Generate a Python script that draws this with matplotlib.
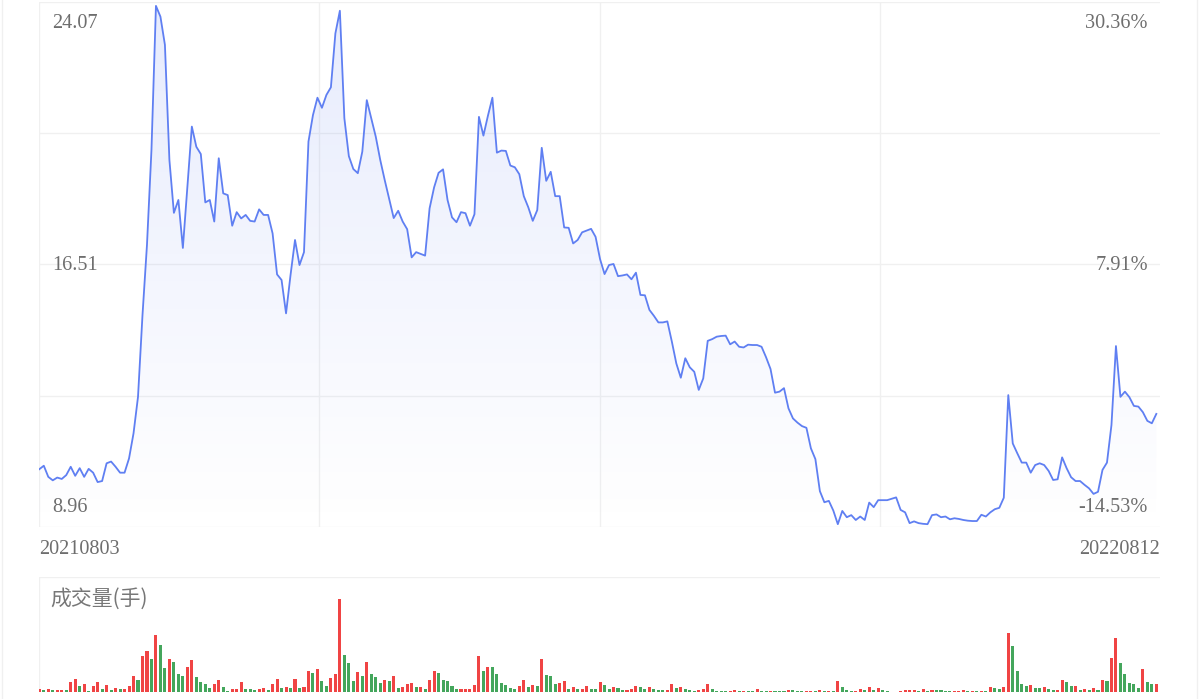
import numpy as np
import matplotlib
matplotlib.use("Agg")
import matplotlib.pyplot as plt
from matplotlib.colors import LinearSegmentedColormap
from matplotlib.lines import Line2D

# closing price, 20210803 .. 20220812
price = [
    10.63, 10.73, 10.41, 10.31, 10.39, 10.35, 10.46, 10.70, 10.44, 10.66,
    10.41, 10.64, 10.53, 10.26, 10.29, 10.80, 10.85, 10.70, 10.53, 10.53,
    10.94, 11.66, 12.71, 15.06, 17.08, 19.81, 23.95, 23.64, 22.83, 19.52,
    18.00, 18.37, 16.99, 18.74, 20.48, 19.90, 19.69, 18.30, 18.37, 17.75,
    19.57, 18.56, 18.51, 17.63, 18.02, 17.84, 17.94, 17.77, 17.75, 18.10,
    17.94, 17.94, 17.41, 16.23, 16.07, 15.11, 16.21, 17.22, 16.50, 16.87,
    20.05, 20.81, 21.31, 21.02, 21.39, 21.61, 23.16, 23.81, 20.72, 19.63,
    19.26, 19.14, 19.76, 21.24, 20.72, 20.19, 19.52, 18.94, 18.40, 17.85,
    18.06, 17.75, 17.53, 16.72, 16.87, 16.82, 16.77, 18.13, 18.73, 19.15,
    19.25, 18.37, 17.87, 17.73, 18.02, 17.99, 17.63, 17.96, 20.76, 20.22,
    20.79, 21.31, 19.73, 19.79, 19.78, 19.36, 19.31, 19.11, 18.48, 18.16,
    17.77, 18.08, 19.87, 18.92, 19.18, 18.48, 18.48, 17.58, 17.57, 17.12,
    17.22, 17.44, 17.49, 17.54, 17.31, 16.67, 16.24, 16.50, 16.53, 16.18,
    16.20, 16.23, 16.09, 16.28, 15.64, 15.63, 15.21, 15.04, 14.85, 14.85,
    14.88, 14.30, 13.67, 13.26, 13.82, 13.56, 13.43, 12.91, 13.24, 14.32,
    14.37, 14.44, 14.46, 14.47, 14.22, 14.30, 14.15, 14.13, 14.21, 14.20,
    14.20, 14.15, 13.85, 13.51, 12.83, 12.86, 12.96, 12.38, 12.09, 11.97,
    11.87, 11.82, 11.23, 10.92, 10.00, 9.68, 9.72, 9.44, 9.05, 9.43,
    9.25, 9.31, 9.17, 9.27, 9.17, 9.67, 9.54, 9.74, 9.74, 9.74,
    9.78, 9.82, 9.46, 9.39, 9.08, 9.13, 9.08, 9.06, 9.05, 9.31,
    9.33, 9.25, 9.27, 9.19, 9.22, 9.20, 9.17, 9.15, 9.14, 9.14,
    9.32, 9.27, 9.39, 9.48, 9.52, 9.81, 12.76, 11.37, 11.09, 10.82,
    10.82, 10.53, 10.75, 10.80, 10.75, 10.58, 10.32, 10.34, 10.97, 10.66,
    10.40, 10.29, 10.29, 10.18, 10.08, 9.92, 9.98, 10.61, 10.82, 11.90,
    14.17, 12.71, 12.86, 12.70, 12.45, 12.43, 12.27, 12.02, 11.95, 12.22,
]

# volume (thousand lots, approx.)
volume = [
    10, 7, 10, 5, 5, 6, 5, 31, 40, 17,
    25, 2, 17, 29, 10, 20, 7, 13, 9, 9,
    17, 48, 37, 107, 123, 99, 171, 141, 71, 99,
    91, 53, 47, 75, 96, 46, 31, 24, 13, 23,
    37, 15, 4, 8, 10, 29, 9, 8, 6, 10,
    13, 7, 25, 40, 12, 16, 11, 40, 11, 15,
    64, 56, 69, 33, 17, 42, 53, 281, 111, 86,
    32, 60, 49, 91, 54, 45, 28, 35, 32, 47,
    12, 14, 25, 28, 16, 16, 8, 36, 64, 56,
    35, 32, 18, 8, 9, 10, 10, 22, 108, 63,
    74, 74, 53, 27, 21, 11, 10, 18, 36, 15,
    22, 18, 100, 52, 49, 24, 27, 34, 10, 15,
    8, 9, 19, 9, 8, 31, 22, 8, 14, 12,
    5, 6, 9, 18, 14, 8, 16, 10, 6, 5,
    6, 23, 11, 15, 10, 7, 3, 7, 10, 25,
    9, 2, 2, 2, 3, 5, 2, 3, 2, 2,
    10, 2, 2, 4, 2, 3, 2, 7, 5, 2,
    2, 4, 4, 3, 5, 4, 4, 3, 34, 14,
    6, 3, 4, 9, 6, 14, 7, 13, 7, 2,
    1, 1, 3, 5, 6, 6, 3, 8, 3, 7,
    6, 5, 3, 2, 3, 3, 6, 4, 4, 3,
    3, 2, 15, 13, 8, 16, 178, 137, 62, 23,
    17, 22, 13, 13, 14, 9, 5, 5, 35, 29,
    17, 17, 6, 8, 6, 11, 5, 36, 34, 103,
    161, 86, 55, 26, 23, 13, 68, 29, 23, 25,
]

# 1 = up day (red), 0 = down day (green)
up = [
    1, 0, 1, 0, 1, 1, 0, 1, 1, 0,
    1, 0, 1, 1, 0, 1, 0, 1, 0, 1,
    1, 1, 0, 1, 1, 0, 1, 0, 0, 1,
    0, 0, 0, 1, 1, 0, 0, 0, 0, 1,
    1, 0, 0, 1, 1, 1, 0, 0, 0, 1,
    1, 0, 1, 1, 0, 1, 0, 1, 0, 1,
    1, 0, 1, 0, 0, 1, 1, 1, 0, 0,
    0, 1, 0, 1, 0, 0, 0, 1, 0, 1,
    0, 1, 1, 1, 0, 1, 0, 1, 1, 0,
    0, 0, 0, 0, 1, 1, 1, 1, 1, 0,
    1, 0, 0, 0, 0, 0, 0, 1, 1, 0,
    1, 0, 1, 0, 0, 0, 1, 1, 0, 1,
    0, 1, 1, 0, 0, 1, 0, 0, 1, 0,
    0, 1, 1, 1, 0, 0, 1, 0, 0, 0,
    1, 1, 0, 1, 0, 0, 0, 1, 1, 1,
    0, 0, 0, 0, 1, 1, 0, 1, 0, 0,
    1, 0, 0, 1, 0, 0, 0, 1, 0, 0,
    0, 1, 1, 0, 1, 0, 1, 0, 1, 0,
    0, 0, 1, 1, 0, 1, 0, 1, 0, 0,
    0, 0, 1, 1, 1, 1, 0, 1, 0, 1,
    0, 0, 0, 0, 1, 1, 1, 0, 1, 0,
    1, 0, 1, 0, 0, 1, 1, 0, 0, 0,
    0, 1, 0, 0, 1, 0, 0, 1, 1, 0,
    0, 1, 0, 1, 0, 1, 0, 1, 0, 1,
    1, 0, 0, 0, 0, 0, 1, 0, 0, 1,
]

y_labels = ["24.07", "16.51", "8.96"]
pct_labels = ["30.36%", "7.91%", "-14.53%"]
start_date, end_date = "20210803", "20220812"

ymin, ymax = 8.96, 24.07
line_col = "#5f7ff2"
grid_col = "#f0f0f0"
txt_col = "#6e6e6e"
red, green = "#f04444", "#44a65c"

x = np.arange(len(price))
xmax = len(price) - 1 + 0.82

fig = plt.figure(figsize=(12, 6.99), dpi=100)

# ---- price panel
ax = fig.add_axes([39 / 1200, 1 - 527.3 / 699, 1121 / 1200, 525.6 / 699])
ax.set_xlim(-0.07, xmax)
ax.set_ylim(ymin, ymax)
for s in ax.spines.values():
    s.set_visible(False)
ax.set_xticks([])
ax.set_yticks([])

for gy in np.linspace(ymin, ymax, 5):
    ax.axhline(gy, color=grid_col, lw=1, zorder=0)
for gx in np.linspace(-0.07, xmax, 5)[:-1]:
    ax.axvline(gx, color=grid_col, lw=1, zorder=0)

poly = ax.fill_between(x, price, ymin, color="none", lw=0)
cmap = LinearSegmentedColormap.from_list(
    "fade", [(0.37, 0.50, 0.95, 0.0), (0.37, 0.50, 0.95, 0.15)])
grad = np.linspace(1, 0, 256).reshape(-1, 1)
img = ax.imshow(grad, extent=[-0.07, xmax, ymin, max(price)], aspect="auto",
                cmap=cmap, origin="upper", zorder=1)
img.set_clip_path(poly.get_paths()[0], transform=ax.transData)
ax.plot(x, price, color=line_col, lw=1.3, zorder=3)

serif = "Liberation Serif"
fs = 14.6
fig.text(52 / 1200, 1 - 24 / 699, y_labels[0], fontsize=fs, family=serif,
         color=txt_col, ha="left", va="center")
fig.text(52 / 1200, 1 - 266 / 699, y_labels[1], fontsize=fs, family=serif,
         color=txt_col, ha="left", va="center")
fig.text(52 / 1200, 1 - 508 / 699, y_labels[2], fontsize=fs, family=serif,
         color=txt_col, ha="left", va="center")
fig.text(1148 / 1200, 1 - 24 / 699, pct_labels[0], fontsize=fs, family=serif,
         color=txt_col, ha="right", va="center")
fig.text(1148 / 1200, 1 - 266 / 699, pct_labels[1], fontsize=fs, family=serif,
         color=txt_col, ha="right", va="center")
fig.text(1148 / 1200, 1 - 508 / 699, pct_labels[2], fontsize=fs, family=serif,
         color=txt_col, ha="right", va="center")
fig.text(39 / 1200, 1 - 549 / 699, start_date, fontsize=fs, family=serif,
         color=txt_col, ha="left", va="center")
fig.text(1160 / 1200, 1 - 549 / 699, end_date, fontsize=fs, family=serif,
         color=txt_col, ha="right", va="center")

# ---- volume panel
vmax = max(volume) * 115 / 93.7
axv = fig.add_axes([39 / 1200, 1 - 692 / 699, 1121 / 1200, 114.7 / 699])
axv.set_xlim(-0.07, xmax)
axv.set_ylim(0, vmax)
for s in axv.spines.values():
    s.set_visible(False)
axv.set_xticks([])
axv.set_yticks([])
axv.axhline(vmax, color=grid_col, lw=1, zorder=0)
axv.axvline(-0.07, color=grid_col, lw=1, zorder=0)
colors = [red if u else green for u in up]
axv.bar(x, volume, width=0.68, color=colors, zorder=2)
fig.text(50 / 1200, 1 - 599 / 699, "成交量(手)", fontsize=15,
         family=["Noto Sans CJK SC", "DejaVu Sans"], color="#777777",
         ha="left", va="center")

# faint outer frame edges
fig.add_artist(Line2D([1.5 / 1200, 1.5 / 1200], [0, 1], color="#f0f0f0", lw=1))
fig.add_artist(Line2D([1197 / 1200, 1197 / 1200], [0, 1], color="#f0f0f0", lw=1))

fig.savefig("out.png", dpi=100)
